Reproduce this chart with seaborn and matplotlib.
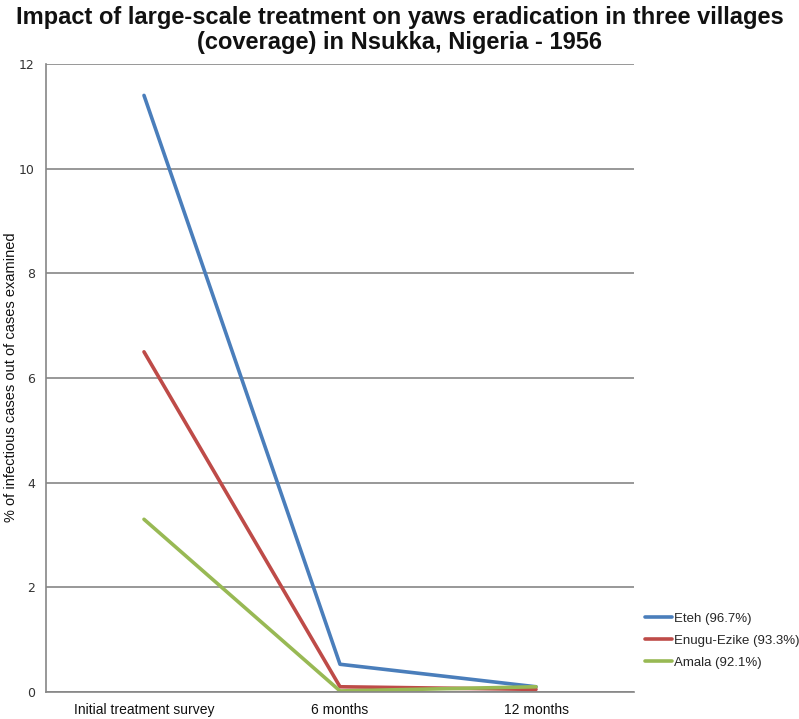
import pandas as pd
import matplotlib
matplotlib.use("Agg")
import matplotlib.pyplot as plt
import seaborn as sns

# dati
periods = ["Initial treatment survey", "6 months", "12 months"]
eteh = [11.4, 0.53, 0.1]
enugu_ezike = [6.5, 0.1, 0.05]
amala = [3.3, 0.02, 0.1]
villages = ["Eteh (96.7%)", "Enugu-Ezike (93.3%)", "Amala (92.1%)"]
colors = ["#4a7ebb", "#be4b48", "#98b954"]

rows = []
for name, vals in zip(villages, [eteh, enugu_ezike, amala]):
    for p, v in zip(periods, vals):
        rows.append({"period": p, "value": v, "village": name})
df = pd.DataFrame(rows)

sns.set_style("white")
plt.rcParams['font.family'] = ['Liberation Sans', 'DejaVu Sans']

fig = plt.figure(figsize=(7.99, 7.19), dpi=100)
ax = fig.add_axes([46 / 799, 27 / 719, 588 / 799, 628 / 719])

sns.lineplot(data=df, x="period", y="value", hue="village", palette=colors,
             linewidth=2.6, ax=ax, legend=True)

ax.set_xlim(-0.5, 2.5)
ax.set_ylim(0, 12)
ax.set_yticks(range(0, 13, 2))
ax.yaxis.grid(True, color="#868686", linewidth=1.2)
ax.xaxis.grid(False)
ax.set_axisbelow(True)
for s in ["top", "right"]:
    ax.spines[s].set_visible(False)
ax.spines["left"].set_color("#868686")
ax.spines["bottom"].set_color("#868686")
ax.spines["left"].set_linewidth(1.2)
ax.spines["bottom"].set_linewidth(1.2)
ax.tick_params(axis="both", length=0)
ax.tick_params(axis="y", pad=8)
ax.tick_params(axis="x", pad=8)
for lab in ax.get_yticklabels():
    lab.set_family("DejaVu Sans")
    lab.set_fontsize(9)
    lab.set_color("#333333")
for lab in ax.get_xticklabels():
    lab.set_fontsize(10)
    lab.set_color("#111111")

ax.set_xlabel("")
ax.set_ylabel("")
fig.text(11 / 799, 1 - 377 / 719, "% of infectious cases out of cases examined",
         rotation=90, ha="center", va="center", fontsize=10.5, color="#111111")

fig.suptitle("Impact of large-scale treatment on yaws eradication in three villages\n(coverage) in Nsukka, Nigeria - 1956",
             fontsize=17, fontweight="bold", y=0.992, linespacing=1.1, color="#111111")

h, l = ax.get_legend_handles_labels()
ax.legend(h, l, loc="upper left", bbox_to_anchor=(640 / 799, 1 - 607 / 719),
          bbox_transform=fig.transFigure, frameon=False, fontsize=9.5,
          handlelength=2.0, handletextpad=0.15, labelspacing=0.75, borderaxespad=0)

fig.savefig("out.png", dpi=100)
